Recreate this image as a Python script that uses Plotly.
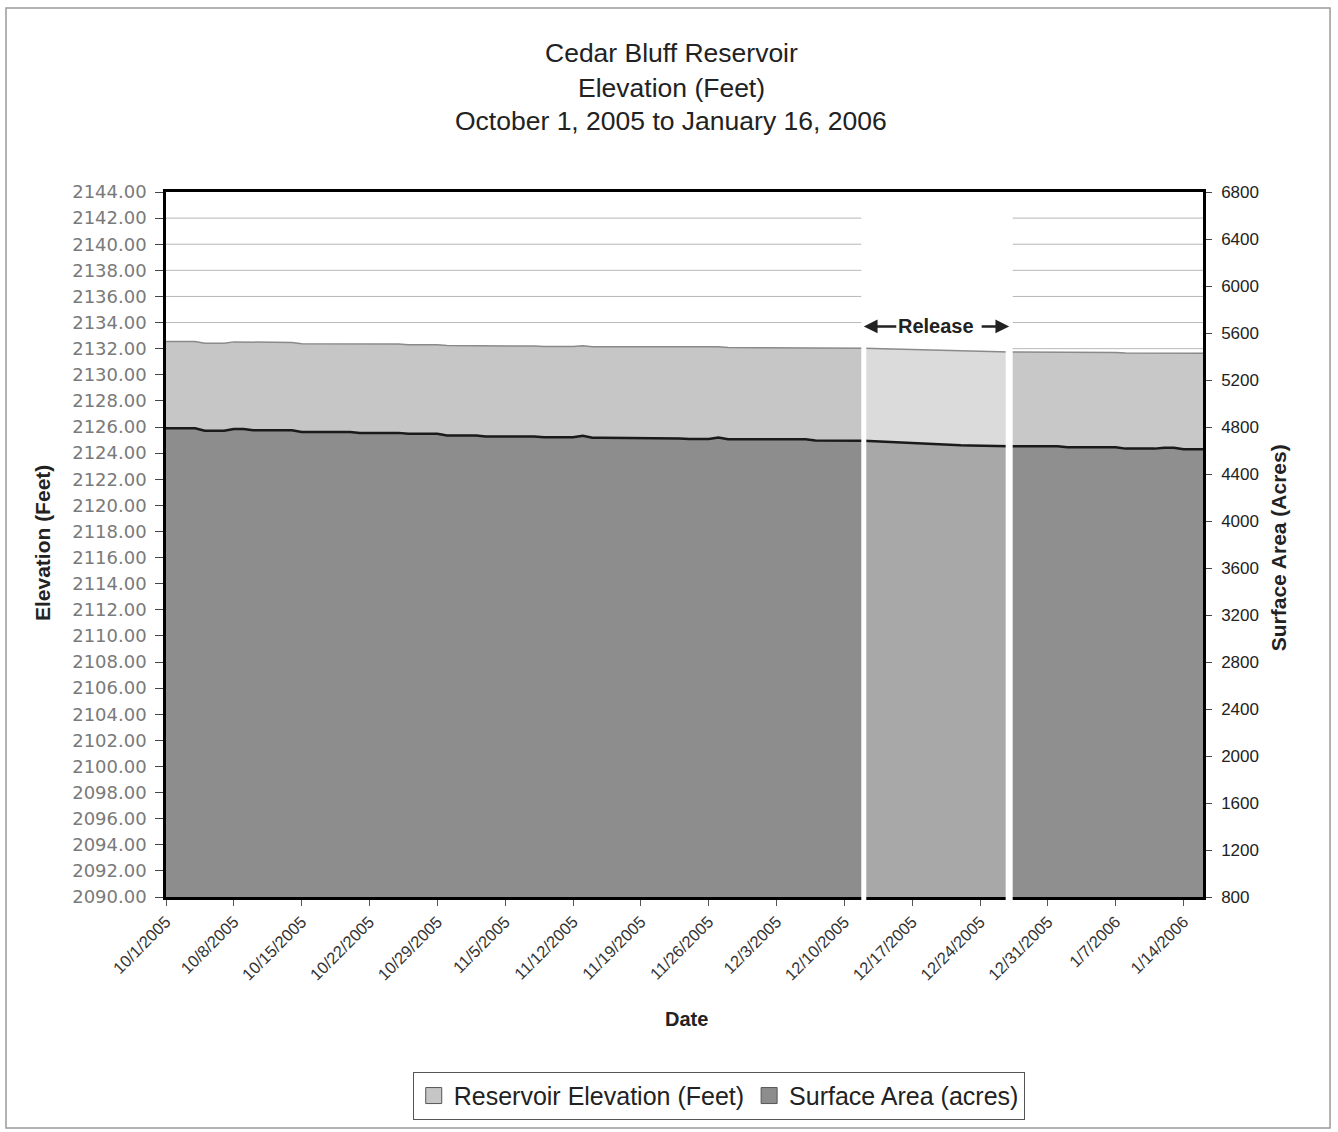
import pandas as pd
import plotly.graph_objects as go

# Daily readings, October 1, 2005 through January 16, 2006
dates = pd.date_range("2005-10-01", "2006-01-16", freq="D")

elevation_ft = [
    2132.55, 2132.55, 2132.55, 2132.55, 2132.42, 2132.42, 2132.42, 2132.52, 2132.52, 2132.47,
    2132.47, 2132.47, 2132.47, 2132.47, 2132.38, 2132.38, 2132.38, 2132.38, 2132.38, 2132.38,
    2132.35, 2132.35, 2132.35, 2132.35, 2132.35, 2132.30, 2132.30, 2132.30, 2132.30, 2132.24,
    2132.24, 2132.24, 2132.24, 2132.20, 2132.20, 2132.20, 2132.20, 2132.20, 2132.20, 2132.16,
    2132.16, 2132.16, 2132.16, 2132.22, 2132.14, 2132.14, 2132.14, 2132.14, 2132.14, 2132.12,
    2132.12, 2132.12, 2132.12, 2132.12, 2132.10, 2132.10, 2132.10, 2132.15, 2132.09, 2132.09,
    2132.09, 2132.09, 2132.09, 2132.09, 2132.09, 2132.09, 2132.09, 2132.06, 2132.06, 2132.06,
    2132.06, 2132.06, 2132.04, 2132.02, 2132.00, 2131.97, 2131.94, 2131.91, 2131.88, 2131.86,
    2131.84, 2131.82, 2131.80, 2131.79, 2131.78, 2131.77, 2131.76, 2131.74, 2131.74, 2131.74,
    2131.74, 2131.74, 2131.74, 2131.71, 2131.71, 2131.71, 2131.71, 2131.71, 2131.71, 2131.66,
    2131.66, 2131.66, 2131.66, 2131.69, 2131.69, 2131.64, 2131.64, 2131.64,
]

surface_acres = [
    4790, 4790, 4790, 4790, 4768, 4768, 4768, 4782, 4782, 4772,
    4772, 4772, 4772, 4772, 4758, 4758, 4758, 4758, 4758, 4758,
    4750, 4750, 4750, 4750, 4750, 4742, 4742, 4742, 4742, 4728,
    4728, 4728, 4728, 4720, 4720, 4720, 4720, 4720, 4720, 4712,
    4712, 4712, 4712, 4726, 4708, 4708, 4708, 4708, 4708, 4702,
    4702, 4702, 4702, 4702, 4698, 4698, 4698, 4710, 4695, 4695,
    4695, 4695, 4695, 4695, 4695, 4695, 4695, 4686, 4686, 4686,
    4686, 4686, 4684, 4680, 4675, 4670, 4665, 4660, 4655, 4651,
    4648, 4646, 4644, 4642, 4641, 4640, 4639, 4636, 4636, 4636,
    4636, 4636, 4636, 4628, 4628, 4628, 4628, 4628, 4628, 4616,
    4616, 4616, 4616, 4624, 4624, 4610, 4610, 4610,
]

tick_dates = ["2005-10-01", "2005-10-08", "2005-10-15", "2005-10-22", "2005-10-29",
              "2005-11-05", "2005-11-12", "2005-11-19", "2005-11-26", "2005-12-03",
              "2005-12-10", "2005-12-17", "2005-12-24", "2005-12-31", "2006-01-07",
              "2006-01-14"]
tick_labels = ["10/1/2005", "10/8/2005", "10/15/2005", "10/22/2005", "10/29/2005",
               "11/5/2005", "11/12/2005", "11/19/2005", "11/26/2005", "12/3/2005",
               "12/10/2005", "12/17/2005", "12/24/2005", "12/31/2005", "1/7/2006",
               "1/14/2006"]
gridline_levels = [2092, 2094, 2096, 2098, 2100, 2102, 2104, 2106, 2108, 2110, 2112, 2114,
                   2116, 2118, 2120, 2122, 2124, 2126, 2128, 2130, 2132, 2134, 2136, 2138,
                   2140, 2142]

release_start = "2005-12-12"
release_end = "2005-12-27"
release_mid = "2005-12-19 12:00"

# Before, during and after the release; the segments share their boundary days
segments = [(0, 72), (72, 87), (87, 107)]
elev_fills = ["#c6c6c6", "#dbdbdb", "#c8c8c8"]
area_fills = ["#8d8d8d", "#a8a8a8", "#8f8f8f"]

FONT = "Liberation Sans, Arial, sans-serif"

fig = go.Figure()

for i, (s, e) in enumerate(segments):
    fig.add_trace(go.Scatter(
        x=dates[s:e + 1], y=elevation_ft[s:e + 1],
        mode="lines", fill="tozeroy", fillcolor=elev_fills[i],
        line=dict(color="#8a8a8a", width=1.5),
        name="Reservoir Elevation (Feet)", showlegend=False, yaxis="y",
        hoverinfo="x+y",
    ))

for i, (s, e) in enumerate(segments):
    fig.add_trace(go.Scatter(
        x=dates[s:e + 1], y=surface_acres[s:e + 1],
        mode="lines", fill="tozeroy", fillcolor=area_fills[i],
        line=dict(color="#1a1a1a", width=2.5),
        name="Surface Area (acres)", showlegend=False, yaxis="y2",
        hoverinfo="x+y",
    ))

# Square swatches for the legend
for name, color in [("Reservoir Elevation (Feet)", elev_fills[0]),
                    ("Surface Area (acres)", area_fills[0])]:
    fig.add_trace(go.Scatter(
        x=[None], y=[None], mode="markers", name=name,
        marker=dict(symbol="square", size=16, color=color,
                    line=dict(color="#555", width=1)),
    ))

shapes = []
# Horizontal gridlines, left out over the release window
for lvl in gridline_levels:
    for x0, x1 in [(dates[0], release_start), (release_end, dates[-1])]:
        shapes.append(dict(type="line", xref="x", yref="y", x0=x0, x1=x1, y0=lvl, y1=lvl,
                           line=dict(color="#b8b8b8", width=1), layer="below"))
shapes += [
    # white separators at the start and end of the release
    dict(type="line", xref="x", yref="y domain", x0=release_start, x1=release_start,
         y0=-0.006, y1=0.985, line=dict(color="white", width=5), layer="above"),
    dict(type="line", xref="x", yref="y domain", x0=release_end, x1=release_end,
         y0=-0.006, y1=0.985, line=dict(color="white", width=7), layer="above"),
    # outer chart frame
    dict(type="rect", xref="paper", yref="paper", x0=-0.1543, x1=1.1225,
         y0=-0.3277, y1=1.2610, line=dict(color="#9a9a9a", width=1.5),
         fillcolor="rgba(0,0,0,0)", layer="below"),
]

annotations = [
    dict(text="Cedar Bluff Reservoir", xref="paper", yref="paper", x=0.487, y=1.197,
         showarrow=False, font=dict(size=26.5, color="#222"), xanchor="center", yanchor="middle"),
    dict(text="Elevation (Feet)", xref="paper", yref="paper", x=0.487, y=1.1475,
         showarrow=False, font=dict(size=26.5, color="#222"), xanchor="center", yanchor="middle"),
    dict(text="October 1, 2005 to January 16, 2006", xref="paper", yref="paper", x=0.487,
         y=1.1007, showarrow=False, font=dict(size=26.5, color="#222"),
         xanchor="center", yanchor="middle"),
    dict(text="<b>Date</b>", xref="paper", yref="paper", x=0.5015, y=-0.173,
         showarrow=False, font=dict(size=20, color="#222"), xanchor="center", yanchor="middle"),
    dict(text="<b>Elevation (Feet)</b>", xref="paper", yref="paper", x=-0.1196, y=0.502,
         textangle=-90, showarrow=False, font=dict(size=21, color="#222"),
         xanchor="center", yanchor="middle"),
    dict(text="<b>Surface Area (Acres)</b>", xref="paper", yref="paper", x=1.0723, y=0.496,
         textangle=-90, showarrow=False, font=dict(size=21, color="#222"),
         xanchor="center", yanchor="middle"),
    dict(text="<b>Release</b>", xref="x", yref="y", x=release_mid, y=2133.7,
         showarrow=False, font=dict(size=20, color="#222"), xanchor="center", yanchor="middle"),
    dict(text="", xref="x", yref="y", x=release_start, y=2133.7, ax=34, ay=0,
         showarrow=True, arrowhead=2, arrowsize=1.1, arrowwidth=2.5, arrowcolor="#222"),
    dict(text="", xref="x", yref="y", x=release_end, y=2133.7, ax=-29, ay=0,
         showarrow=True, arrowhead=2, arrowsize=1.1, arrowwidth=2.5, arrowcolor="#222"),
]

fig.update_layout(
    width=1338, height=1132,
    margin=dict(l=166, r=135, t=192, b=235),
    paper_bgcolor="white", plot_bgcolor="white",
    font=dict(family=FONT, color="#222"),
    showlegend=True,
    legend=dict(orientation="h", x=0.533, y=-0.282, xanchor="center", yanchor="middle",
                bordercolor="#555", borderwidth=1, bgcolor="white",
                font=dict(size=25, color="#222"), traceorder="normal",
                itemwidth=30),
    xaxis=dict(
        type="date", range=[dates[0], dates[-1]],
        tickvals=tick_dates, ticktext=tick_labels, tickangle=-45,
        tickfont=dict(size=16.5, color="#333"),
        ticks="outside", ticklen=6, tickcolor="#555",
        showgrid=False, zeroline=False,
        showline=True, linecolor="black", linewidth=2.5, mirror=True,
    ),
    yaxis=dict(
        range=[2090, 2144], dtick=2, tick0=2090, tickformat=".2f",
        tickfont=dict(family="DejaVu Sans, sans-serif", size=18, color="#7a7a7a"),
        ticks="outside", ticklen=8, tickcolor="#444", ticklabelstandoff=5,
        showgrid=False, zeroline=False,
        showline=True, linecolor="black", linewidth=2.5,
    ),
    yaxis2=dict(
        overlaying="y", side="right", range=[800, 6800], dtick=400, tick0=800,
        tickfont=dict(size=17, color="#222"),
        ticks="outside", ticklen=6, tickcolor="#444", ticklabelstandoff=6,
        showgrid=False, zeroline=False,
        showline=True, linecolor="black", linewidth=2.5,
    ),
    shapes=shapes,
    annotations=annotations,
)

fig.write_html("out.html")
